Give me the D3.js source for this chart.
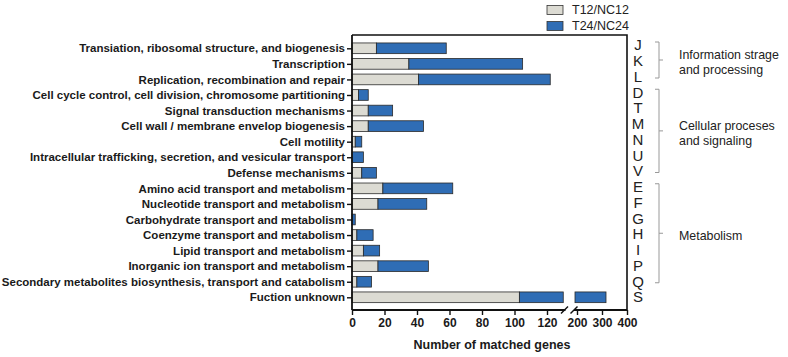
<!DOCTYPE html>
<html>
<head>
<meta charset="utf-8">
<script src="https://cdn.jsdelivr.net/npm/d3@7"></script>
<style>
  body { margin: 0; background: #fff; }
  text { font-family: "Liberation Sans", Arial, sans-serif; }
</style>
</head>
<body>
<svg id="chart" width="788" height="357"></svg>
<script>
// categories (top to bottom)
const categories = [
  "Transiation, ribosomal structure, and biogenesis",
  "Transcription",
  "Replication, recombination and repair",
  "Cell cycle control, cell division, chromosome partitioning",
  "Signal transduction mechanisms",
  "Cell wall / membrane envelop biogenesis",
  "Cell motility",
  "Intracellular trafficking, secretion, and vesicular transport",
  "Defense mechanisms",
  "Amino acid transport and metabolism",
  "Nucleotide transport and metabolism",
  "Carbohydrate transport and metabolism",
  "Coenzyme transport and metabolism",
  "Lipid transport and metabolism",
  "Inorganic ion transport and metabolism",
  "Secondary metabolites biosynthesis, transport and catabolism",
  "Fuction unknown"
];
const letters = ["J","K","L","D","T","M","N","U","V","E","F","G","H","I","P","Q","S"];

// stacked series values
const t12 = [15, 35, 41, 4, 10, 10, 2, 0, 6, 19, 16, 0, 3, 7, 16, 3, 103];
const t24 = [43, 70, 81, 6, 15, 34, 4, 7, 9, 43, 30, 2, 10, 10, 31, 9, 213];

const seriesNames = ["T12/NC12", "T24/NC24"];
const seriesColors = ["#dcdbd3", "#2f6db5"];

// broken x axis
const ticksLow = [0, 20, 40, 60, 80, 100, 120];
const ticksHigh = [200, 300, 400];

const groups = [
  { from: 0, to: 2, lines: ["Information strage", "and processing"] },
  { from: 3, to: 8, lines: ["Cellular proceses", "and signaling"] },
  { from: 9, to: 15, lines: ["Metabolism"] }
];

const svg = d3.select("#chart");

const pl = 352, pr = 627, pt = 35, pb = 310;
const xLow = d3.scaleLinear().domain([0, 130]).range([pl, 563.25]);
const xHigh = d3.scaleLinear().domain([192, 400]).range([575, pr]);
const y = d3.scalePoint().domain(categories).range([48.3, 297.3]);
const yLetter = d3.scalePoint().domain(letters).range([45, 297]);
const barH = 10.7;

// build stacked segments
const segs = [];
categories.forEach((c, i) => {
  let a = 0;
  [t12[i], t24[i]].forEach((v, s) => {
    if (v > 0) segs.push({ cat: c, s: s, a: a, b: a + v });
    a += v;
  });
});

// draw bars, split across the break
const bars = svg.append("g");
segs.forEach(d => {
  if (d.a < 130) {
    bars.append("rect")
      .attr("x", xLow(d.a))
      .attr("y", y(d.cat) - barH / 2)
      .attr("width", xLow(Math.min(d.b, 130)) - xLow(d.a))
      .attr("height", barH)
      .attr("fill", seriesColors[d.s])
      .attr("stroke", "#2a2a2a")
      .attr("stroke-width", 0.8);
  }
  if (d.b > 192) {
    bars.append("rect")
      .attr("x", xHigh(Math.max(d.a, 192)))
      .attr("y", y(d.cat) - barH / 2)
      .attr("width", xHigh(d.b) - xHigh(Math.max(d.a, 192)))
      .attr("height", barH)
      .attr("fill", seriesColors[d.s])
      .attr("stroke", "#2a2a2a")
      .attr("stroke-width", 0.8);
  }
});

// frame: top and right borders
svg.append("path")
  .attr("d", `M${pl},${pt}H${pr}V${pb}`)
  .attr("fill", "none").attr("stroke", "#111").attr("stroke-width", 1.6);

// y axis
const yAxis = svg.append("g")
  .attr("transform", `translate(${pl},0)`)
  .call(d3.axisLeft(y).tickSize(5).tickPadding(2));
yAxis.select(".domain").attr("d", `M0,${pt}V${pb}`).attr("stroke", "#111").attr("stroke-width", 1.8);
yAxis.selectAll(".tick line").attr("stroke", "#111").attr("stroke-width", 1.4);
yAxis.selectAll(".tick text")
  .attr("font-size", 11.5).attr("font-weight", "bold").attr("fill", "#1a1a1a")
  .style("font-family", "'Liberation Sans', Arial, sans-serif");

// x axis, two pieces
const xa1 = svg.append("g")
  .attr("transform", `translate(0,${pb})`)
  .call(d3.axisBottom(xLow).tickValues(ticksLow).tickSize(5).tickPadding(3));
xa1.select(".domain").attr("d", `M${pl},0H565.5`);
const xa2 = svg.append("g")
  .attr("transform", `translate(0,${pb})`)
  .call(d3.axisBottom(xHigh).tickValues(ticksHigh).tickSize(5).tickPadding(3));
xa2.select(".domain").attr("d", `M574,0H${pr}`);
[xa1, xa2].forEach(g => {
  g.select(".domain").attr("stroke", "#111").attr("stroke-width", 1.8);
  g.selectAll(".tick line").attr("stroke", "#111").attr("stroke-width", 1.4);
  g.selectAll(".tick text")
    .attr("font-size", 12).attr("font-weight", "bold").attr("fill", "#1a1a1a")
    .style("font-family", "'Liberation Sans', Arial, sans-serif");
});

// break marks
[561, 570.5].forEach(bx => {
  svg.append("line")
    .attr("x1", bx).attr("y1", pb + 3.5)
    .attr("x2", bx + 7).attr("y2", pb - 3.5)
    .attr("stroke", "#111").attr("stroke-width", 1.4);
});

// axis title
svg.append("text")
  .attr("x", 492).attr("y", 349)
  .attr("text-anchor", "middle")
  .attr("font-size", 12.5).attr("font-weight", "bold").attr("fill", "#1a1a1a")
  .text("Number of matched genes");

// legend
const legend = svg.append("g");
seriesNames.forEach((n, i) => {
  const ly = 10 + i * 16;
  legend.append("rect")
    .attr("x", 547).attr("y", ly - 4.5)
    .attr("width", 16).attr("height", 9)
    .attr("fill", seriesColors[i]).attr("stroke", "#333").attr("stroke-width", 0.8);
  legend.append("text")
    .attr("x", 572).attr("y", ly).attr("dy", "0.35em")
    .attr("font-size", 12.5).attr("fill", "#222")
    .text(n);
});

// COG letters
svg.append("g").selectAll("text")
  .data(letters).join("text")
  .attr("x", 638).attr("y", d => yLetter(d)).attr("dy", "0.36em")
  .attr("text-anchor", "middle")
  .attr("font-size", 15).attr("fill", "#222")
  .text(d => d);

// group brackets
const bx = 659;
const groupText = [];
groups.forEach(g => {
  const y0 = yLetter(letters[g.from]) - 3;
  const y1 = yLetter(letters[g.to]) + 1.5;
  const ym = (y0 + y1) / 2;
  svg.append("path")
    .attr("d", `M${bx - 4},${y0}H${bx}V${y1}H${bx - 4}M${bx},${ym}H${bx + 4}`)
    .attr("fill", "none").attr("stroke", "#999").attr("stroke-width", 1);
  const n = g.lines.length;
  g.lines.forEach((t, k) => {
    groupText.push(svg.append("text")
      .attr("x", 679).attr("y", ym + 2 + (k - (n - 1) / 2) * 15).attr("dy", "0.35em")
      .attr("font-size", 12.5).attr("fill", "#222")
      .text(t));
  });
});
// fit the longest group label to about 100px
const widest = d3.max(groupText, t => t.node().getComputedTextLength());
const fs = Math.min(13, 12.5 * 100 / widest);
groupText.forEach(t => t.attr("font-size", fs));
</script>
</body>
</html>
